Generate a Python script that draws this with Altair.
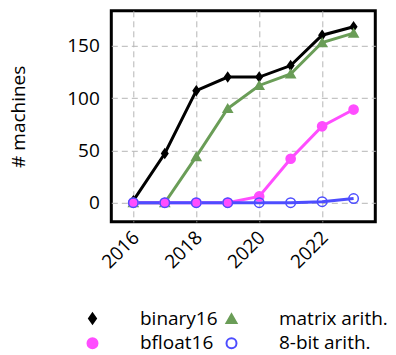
import altair as alt
import pandas as pd

years = [2016, 2017, 2018, 2019, 2020, 2021, 2022, 2023]
binary16 = [2, 47, 107, 120, 120, 131, 160, 168]
matrix_arith = [0, 0, 44, 90, 112, 123, 153, 162]
bfloat16 = [0, 0, 0, 0, 6, 42, 73, 89]
eight_bit = [0, 0, 0, 0, 0, 0, 1, 4]

series_names = ["binary16", "matrix arith.", "bfloat16", "8-bit arith."]
series_values = [binary16, matrix_arith, bfloat16, eight_bit]

x_ticks = [2016, 2018, 2020, 2022]
y_ticks = [0, 50, 100, 150]

line_colors = ["#000000", "#6a9d57", "#ff4dff", "#4d4dff"]
fill_colors = ["#000000", "#6a9d57", "#ff4dff", "transparent"]
point_shapes = ["M0,-1L0.7,0L0,1L-0.7,0Z", "triangle-up", "circle", "circle"]
point_sizes = [64, 90, 130, 80]
point_strokes = [2, 1.5, 1, 2.5]

rows = []
for name, vals in zip(series_names, series_values):
    for yr, v in zip(years, vals):
        rows.append({"year": yr, "value": v, "series": name})
df = pd.DataFrame(rows)

FONT = "Open Sans"

x_enc = alt.X(
    "year:Q",
    scale=alt.Scale(domain=[2015.3, 2023.69], nice=False, zero=False),
    axis=alt.Axis(
        values=x_ticks, format="d", title=None, labelAngle=-45,
        labelAlign="right", labelBaseline="top", labelPadding=6, labelOffset=-4,
    ),
)
y_enc = alt.Y(
    "value:Q",
    scale=alt.Scale(domain=[-18.2, 183.3], nice=False, zero=False),
    axis=alt.Axis(values=y_ticks, title="# machines", labelPadding=12, titlePadding=38),
)


def make_legend():
    return alt.Legend(
        title=None, orient="none", legendX=-28.3, legendY=298,
        columns=2, direction="horizontal", symbolSize=100,
        symbolStrokeWidth=2, symbolOpacity=1, labelOffset=38, columnPadding=4,
        rowPadding=5, labelFontSize=19, labelFont=FONT, labelColor="black", padding=0,
    )


lines = alt.Chart(df).mark_line(strokeWidth=3).encode(
    x=x_enc,
    y=y_enc,
    color=alt.Color(
        "series:N",
        scale=alt.Scale(domain=series_names, range=line_colors),
        legend=None,
    ),
)

points = alt.Chart(df).mark_point(opacity=1, filled=True).encode(
    x=x_enc,
    y=y_enc,
    shape=alt.Shape("series:N", scale=alt.Scale(domain=series_names, range=point_shapes), legend=make_legend()),
    fill=alt.Fill("series:N", scale=alt.Scale(domain=series_names, range=fill_colors), legend=make_legend()),
    stroke=alt.Stroke("series:N", scale=alt.Scale(domain=series_names, range=line_colors), legend=make_legend()),
    size=alt.Size("series:N", scale=alt.Scale(domain=series_names, range=point_sizes), legend=None),
    strokeWidth=alt.StrokeWidth("series:N", scale=alt.Scale(domain=series_names, range=point_strokes), legend=None),
)

chart = (
    alt.layer(lines, points)
    .resolve_scale(shape="independent", fill="independent", stroke="independent")
    .properties(
        width=264, height=211,
        autosize=alt.AutoSizeParams(type="none"),
        padding={"left": 103.3, "top": 2.8, "right": 12, "bottom": 128},
    )
    .configure_view(stroke="black", strokeWidth=3)
    .configure_axis(
        grid=True, gridDash=[6, 4], gridColor="#b5b5b5", gridWidth=1,
        ticks=False, domain=False, labelFont=FONT, labelFontSize=19,
        labelColor="black", titleFont=FONT, titleFontSize=19,
        titleFontWeight="normal", titleColor="black",
    )
)

chart.save("out.html", embed_options={"renderer": "svg", "actions": False})
